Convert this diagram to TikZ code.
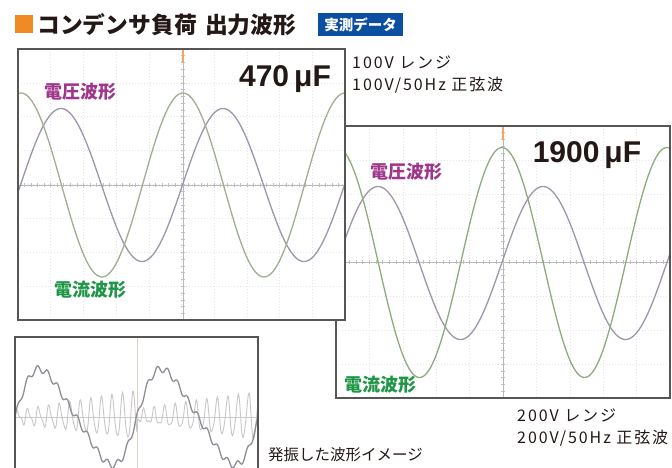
\documentclass[tikz,border=0pt]{standalone}
\usepackage{fontspec}
\setmainfont{Liberation Sans}
\newfontfamily\jpfont{Noto Sans CJK JP}
\newfontfamily\jpspaced[LetterSpace=12]{Noto Sans CJK JP}
\definecolor{titleink}{RGB}{35,24,21}
\definecolor{markorange}{RGB}{240,138,36}
\definecolor{badgeblue}{RGB}{12,78,160}
\definecolor{voltpurple}{RGB}{160,54,140}
\definecolor{currgreen}{RGB}{30,150,70}
\definecolor{voltline}{RGB}{160,148,172}
\definecolor{currline}{RGB}{160,174,146}
\definecolor{framegray}{RGB}{88,86,84}
\definecolor{trigorange}{RGB}{240,165,105}
\tikzset{
  scopeframe/.style={draw=framegray, line width=1.1pt},
  gridline/.style={draw=black!10, dash pattern=on 1pt off 2pt, line width=0.6pt},
  axisline/.style={draw=black!28, line width=0.9pt},
  tickline/.style={draw=black!25, line width=0.6pt},
  voltwave/.style={draw=voltline, line width=1.3pt},
  currwave/.style={draw=currline, line width=1.3pt},
  wavelabel/.style={font=\jpfont\bfseries\fontsize{18}{18}\selectfont, inner sep=0pt},
  caplabel/.style={font=\bfseries\fontsize{30}{30}\selectfont, text=titleink, inner sep=0pt, anchor=base},
  notetext/.style={font=\jpspaced\fontsize{16}{16}\selectfont, text=titleink, anchor=west, inner sep=0pt},
}
\begin{document}
\begin{tikzpicture}[x=1pt,y=1pt,yscale=-1]
  \useasboundingbox (0,0) rectangle (672,468);

  % Title
  \fill[markorange] (15,15) rectangle (33,33);
  \node[anchor=west, inner sep=0pt, text=titleink, font=\jpfont\bfseries\fontsize{22.8}{22.8}\selectfont] (title) at (37,24.5) {コンデンサ負荷\hspace{3pt} 出力波形};
  \node[fill=badgeblue, text=white, inner sep=0pt, minimum width=85, minimum height=23, font=\jpfont\bfseries\fontsize{14.5}{14.5}\selectfont] (badge) at (360.5,25) {実測データ};

  % Scope 1900uF (behind)
  \fill[white] (336,126) rectangle (670,398);
  \begin{scope}
    \clip (336,126) rectangle (670,398);
    \foreach \i in {1,...,9} \draw[gridline] ({336+\i*33.4},126) -- ({336+\i*33.4},398);
    \foreach \j in {1,...,7} \draw[gridline] (336,{126+\j*34}) -- (670,{126+\j*34});
    \draw[axisline] (336,262) -- (670,262);
    \draw[axisline] (503,126) -- (503,398);
    \foreach \t in {0,...,40} \draw[tickline] (501,{126+\t*6.8}) -- (505,{126+\t*6.8});
    \foreach \t in {0,...,50} \draw[tickline] ({336+\t*6.68},260) -- ({336+\t*6.68},264);
    \draw[trigorange, line width=1.2pt] (503,126) -- (503,140);
    \draw[voltwave] plot[domain=336:670, samples=220] (\x, {263-76.5*cos(360/165*(\x-543))});
    \draw[currwave, draw={rgb,255:red,140;green,172;blue,128}] plot[domain=336:670, samples=220] (\x, {262.5-115*cos(360/165*(\x-502))});
  \end{scope}
  \draw[scopeframe] (336,126) rectangle (670,398);
  \node[caplabel] (cap1900) at (587,163) {1900\,μF};
  \node[wavelabel, text=voltpurple] (volt1900) at (406,172) {電圧波形};
  \node[wavelabel, text=currgreen] (curr1900) at (380,385) {電流波形};

  % Scope 470uF (front)
  \fill[white] (18,49) rectangle (345,320);
  \begin{scope}
    \clip (18,49) rectangle (345,320);
    \foreach \i in {1,...,9} \draw[gridline] ({18+\i*32.7},49) -- ({18+\i*32.7},320);
    \foreach \j in {1,...,7} \draw[gridline] (18,{49+\j*33.9}) -- (345,{49+\j*33.9});
    \draw[axisline] (18,185) -- (345,185);
    \draw[axisline] (183,49) -- (183,320);
    \foreach \t in {0,...,40} \draw[tickline] (181,{49+\t*6.78}) -- (185,{49+\t*6.78});
    \foreach \t in {0,...,50} \draw[tickline] ({18+\t*6.54},183) -- ({18+\t*6.54},187);
    \draw[trigorange, line width=1.2pt] (183,49) -- (183,63);
    \draw[voltwave] plot[domain=18:345, samples=220] (\x, {185-76.5*cos(360/162*(\x-223))});
    \draw[currwave] plot[domain=18:345, samples=220] (\x, {185-92*cos(360/162*(\x-183))});
  \end{scope}
  \draw[scopeframe] (18,49) rectangle (345,320);
  \node[caplabel] (cap470) at (285,87) {470\,μF};
  \node[wavelabel, text=voltpurple] (volt470) at (80,92) {電圧波形};
  \node[wavelabel, text=currgreen] (curr470) at (90,290) {電流波形};

  % Oscillation scope
  \fill[white] (15,337) rectangle (258,498);
  \begin{scope}
    \clip (15,337) rectangle (258,498);
    \draw[axisline, draw=black!20] (15,417) -- (258,417);
    \draw[axisline, draw=trigorange!60!black!30] (137,337) -- (137,498);
    \draw[line width=0.9pt, draw=black!22] plot[domain=15:258, samples=360] (\x, {417-(5+19*mod(\x-15,122)/122)*sin(360/10.5*mod(\x-15,105))-3*sin(360/5.3*mod(\x-15,53))});
    \draw[line width=1.3pt, draw={rgb,255:red,145;green,140;blue,150}] plot[domain=15:258, samples=300] (\x, {417-48*sin(360/122*(\x-15)+20*sin(360/122*(\x-15)))-3.5*sin(360/10*mod(\x-15,100))});
  \end{scope}
  \draw[scopeframe] (15,498) -- (15,337) -- (258,337) -- (258,498);

  % Notes
  \node[notetext] (range100) at (352,62) {100V レンジ};
  \node[notetext] (source100) at (352,85) {100V/50Hz 正弦波};
  \node[notetext] (range200) at (517,415) {200V レンジ};
  \node[notetext] (source200) at (517,438) {200V/50Hz 正弦波};
  \node[notetext, font=\jpfont\fontsize{15.5}{15.5}\selectfont] (oscnote) at (268,455) {発振した波形イメージ};
\end{tikzpicture}
\end{document}
